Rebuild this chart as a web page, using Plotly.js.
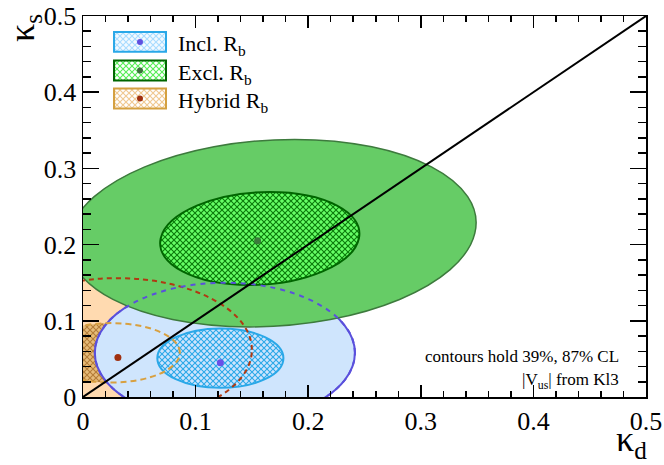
<!DOCTYPE html>
<html>
<head>
<meta charset="utf-8">
<script src="https://cdn.plot.ly/plotly-3.0.1.min.js"></script>
<style>
  html, body { margin: 0; padding: 0; background: #fff; }
  #kappa { width: 664px; height: 465px; }
</style>
</head>
<body>
<div id="kappa"></div>
<script>
// best-fit points (kappa_d, kappa_s)
var inclBest = [0.122, 0.045];
var exclBest = [0.155, 0.205];
var hybridBest = [0.031, 0.052];

// contours read as ellipses: [centre kd, centre ks, half-width kd, half-width ks, shear]
var incl87 = [0.126, 0.058, 0.1155, 0.092, 0];
var incl39 = [0.122, 0.051, 0.056, 0.039, 0];
var excl87 = [0.168, 0.215, 0.180, 0.123, 0.02];
var excl39 = [0.157, 0.208, 0.088, 0.061, 0.009];
var hybrid87 = [0.030, 0.062, 0.120, 0.094, 0];
var hybrid39 = [0.025, 0.058, 0.061, 0.039, 0];

var diagonal = [0, 0.5];
var tickValues = [0, 0.1, 0.2, 0.3, 0.4, 0.5];
var tickLabels = ['0', '0.1', '0.2', '0.3', '0.4', '0.5'];
var legendLabels = ['Incl. R<sub>b</sub>', 'Excl. R<sub>b</sub>', 'Hybrid R<sub>b</sub>'];
var noteLines = ['contours hold 39%, 87% CL', '|V<sub>us</sub>| from Kl3'];

var serif = '"Liberation Serif", "Times New Roman", serif';

// hatch patterns get swapped in after drawing (shapes have no fillpattern)
var hatches = {
    hatchIncl: ['#cfe5fd', '#2aa8e8'],
    hatchExcl: ['#66ff66', '#0a7a0a'],
    hatchHybrid: ['#e6bc7a', '#b47c38'],
    legIncl: ['#f4faff', '#a8dcff'],
    legExcl: ['#ffffff', '#55ee55'],
    legHybrid: ['#ffffff', '#f0c890']
};
var patterned = {};
var shapes = [];

// closed bezier ellipse in data units (4 arcs of a sheared unit circle)
var K = 0.5523;
function ellipsePath(e) {
    function pt(u, v) {
        return (e[0] + e[2] * u + e[4] * v) + ',' + (e[1] + e[3] * v);
    }
    return 'M' + pt(1, 0) +
        'C' + pt(1, K) + ' ' + pt(K, 1) + ' ' + pt(0, 1) +
        'C' + pt(-K, 1) + ' ' + pt(-1, K) + ' ' + pt(-1, 0) +
        'C' + pt(-1, -K) + ' ' + pt(-K, -1) + ' ' + pt(0, -1) +
        'C' + pt(K, -1) + ' ' + pt(1, -K) + ' ' + pt(1, 0) + 'Z';
}

function ellipse(e, style, hatch) {
    if (hatch) patterned[shapes.length] = hatch;
    shapes.push(Object.assign({
        type: 'path', xref: 'x', yref: 'y', layer: 'below',
        path: ellipsePath(e)
    }, style));
}

var none = 'rgba(0,0,0,0)';
ellipse(hybrid87, {fillcolor: '#ffdab0', line: {width: 0}});
ellipse(hybrid39, {fillcolor: '#e6bc7a', line: {width: 0}}, 'hatchHybrid');
ellipse(incl87, {fillcolor: '#cfe5fd', line: {color: '#5a50dc', width: 2}});
ellipse(incl39, {fillcolor: '#a8d6f6', line: {color: '#2aa8e8', width: 2}}, 'hatchIncl');
ellipse(excl87, {fillcolor: '#66cc66', line: {color: '#3d7a3d', width: 1.5}});
ellipse(excl39, {fillcolor: '#55ee55', line: {color: '#006600', width: 2}}, 'hatchExcl');
// hidden parts of the outlines, dashed on top
ellipse(hybrid87, {fillcolor: none, line: {color: '#b03a12', width: 2, dash: '5px,4px'}});
ellipse(hybrid39, {fillcolor: none, line: {color: '#d8a040', width: 2, dash: '6px,4px'}});
ellipse(incl87, {fillcolor: none, line: {color: '#5a50dc', width: 2, dash: '5px,5px'}});

// legend, drawn by hand
var legBorder = ['#2aa8e8', '#006600', '#d4a040'];
var legHatch = ['legIncl', 'legExcl', 'legHybrid'];
var legDot = ['#6050e0', '#3d6e3d', '#a03010'];
var legRows = [0.932, 0.857, 0.7835];
var annotations = [];
legendLabels.forEach(function (lab, i) {
    patterned[shapes.length] = legHatch[i];
    shapes.push({
        type: 'rect', xref: 'paper', yref: 'paper', layer: 'above',
        x0: 0.0551, x1: 0.1474, y0: legRows[i] - 0.026, y1: legRows[i] + 0.026,
        fillcolor: '#ffffff', line: {color: legBorder[i], width: 2}
    });
    shapes.push({
        type: 'circle', xref: 'paper', yref: 'paper', layer: 'above',
        xsizemode: 'pixel', ysizemode: 'pixel',
        xanchor: 0.1012, yanchor: legRows[i],
        x0: -3, x1: 3, y0: -3, y1: 3,
        fillcolor: legDot[i], line: {width: 0}
    });
    annotations.push({
        text: lab, xref: 'paper', yref: 'paper', x: 0.165, y: legRows[i] - 0.008,
        xanchor: 'left', yanchor: 'middle', showarrow: false,
        font: {family: serif, size: 22, color: '#000'}
    });
});

annotations.push({
    text: noteLines[0], xref: 'paper', yref: 'paper', x: 0.955, y: 0.105,
    xanchor: 'right', yanchor: 'middle', showarrow: false,
    font: {family: serif, size: 17, color: '#000'}
});
annotations.push({
    text: noteLines[1], xref: 'paper', yref: 'paper', x: 0.955, y: 0.042,
    xanchor: 'right', yanchor: 'middle', showarrow: false,
    font: {family: serif, size: 17, color: '#000'}
});
// axis titles sit at the ends of the axes, ROOT style
annotations.push({
    text: 'κ<sub>d</sub>', xref: 'paper', yref: 'paper', x: 1.005, y: -0.118,
    xanchor: 'right', yanchor: 'middle', showarrow: false,
    font: {family: serif, size: 36, color: '#000'}
});
annotations.push({
    text: 'κ<sub>s</sub>', xref: 'paper', yref: 'paper', x: -0.104, y: 0.97,
    xanchor: 'center', yanchor: 'middle', showarrow: false, textangle: -90,
    font: {family: serif, size: 36, color: '#000'}
});

function dot(p, color) {
    return {
        type: 'scatter', mode: 'markers', x: [p[0]], y: [p[1]],
        marker: {color: color, size: 7}, showlegend: false, hoverinfo: 'skip'
    };
}

var data = [
    dot(hybridBest, '#a03010'),
    dot(inclBest, '#6a50e8'),
    dot(exclBest, '#3d7a3d'),
    {
        type: 'scatter', mode: 'lines', x: diagonal, y: diagonal,
        line: {color: '#000', width: 2}, showlegend: false, hoverinfo: 'skip'
    }
];

function axis(major, minor) {
    return {
        range: [0, 0.5],
        tickvals: tickValues,
        ticktext: tickLabels,
        ticks: 'inside',
        ticklen: major,
        tickwidth: 1.5,
        tickcolor: '#000',
        minor: {ticks: 'inside', dtick: 0.02, tick0: 0, ticklen: minor, tickwidth: 1.5, tickcolor: '#000'},
        showline: true,
        linecolor: '#000',
        linewidth: 1.5,
        mirror: 'ticks',
        showgrid: false,
        zeroline: false,
        tickfont: {family: serif, size: 26, color: '#000'}
    };
}

var layout = {
    width: 664,
    height: 465,
    margin: {l: 83, r: 18, t: 16, b: 68},
    font: {family: serif, color: '#000'},
    paper_bgcolor: '#fff',
    plot_bgcolor: '#fff',
    showlegend: false,
    xaxis: axis(12, 6),
    yaxis: axis(16, 8),
    shapes: shapes,
    annotations: annotations
};

Plotly.newPlot('kappa', data, layout, {displayModeBar: false, staticPlot: true}).then(function (gd) {
    var ns = 'http://www.w3.org/2000/svg';
    var defs = gd.querySelector('.main-svg defs');
    Object.keys(hatches).forEach(function (id) {
        var pat = document.createElementNS(ns, 'pattern');
        pat.setAttribute('id', id);
        pat.setAttribute('patternUnits', 'userSpaceOnUse');
        pat.setAttribute('width', 6);
        pat.setAttribute('height', 6);
        var bg = document.createElementNS(ns, 'rect');
        bg.setAttribute('width', 6);
        bg.setAttribute('height', 6);
        bg.setAttribute('fill', hatches[id][0]);
        var ln = document.createElementNS(ns, 'path');
        ln.setAttribute('d', 'M-1,-1L7,7M7,-1L-1,7');
        ln.setAttribute('stroke', hatches[id][1]);
        ln.setAttribute('stroke-width', 1.1);
        pat.appendChild(bg);
        pat.appendChild(ln);
        defs.appendChild(pat);
    });
    gd.querySelectorAll('.shapelayer path[data-index]').forEach(function (p) {
        var id = patterned[p.getAttribute('data-index')];
        if (id) p.style.fill = 'url(#' + id + ')';
    });
});
</script>
</body>
</html>
